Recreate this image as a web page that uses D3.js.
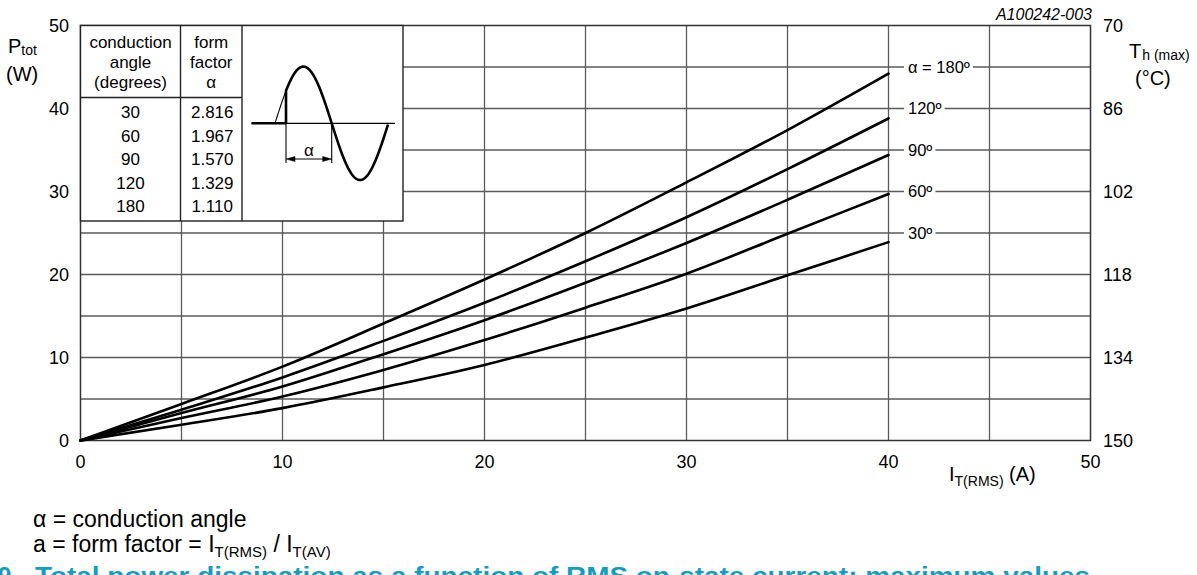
<!DOCTYPE html>
<html>
<head>
<meta charset="utf-8">
<script src="https://cdn.jsdelivr.net/npm/d3@7"></script>
<style>
  html, body { margin: 0; padding: 0; background: #fff; }
  svg { display: block; font-family: "Liberation Sans", Arial, Helvetica, sans-serif; }
</style>
</head>
<body>
<svg id="chart" width="1197" height="575"></svg>
<script>
// RMS on-state current (A) at which each curve is sampled
const current = [0, 5, 10, 15, 20, 25, 30, 35, 40];

// Total power dissipation (W) for each conduction angle
const p180 = [0, 4.4, 8.9, 14.1, 19.4, 25.0, 31.1, 37.4, 44.2];
const p120 = [0, 3.7, 7.6, 12.0, 16.6, 21.6, 26.9, 32.7, 38.8];
const p90  = [0, 3.3, 6.5, 10.4, 14.5, 19.0, 23.8, 29.0, 34.4];
const p60  = [0, 2.7, 5.3,  8.5, 12.1, 16.0, 20.1, 24.9, 29.7];
const p30  = [0, 1.9, 3.9,  6.4,  9.1, 12.4, 15.9, 19.9, 23.9];

// Curve names and the grid level their label sits on
const curveNames  = ["\u03b1 = 180\u00ba", "120\u00ba", "90\u00ba", "60\u00ba", "30\u00ba"];
const labelLevels = [45, 40, 35, 30, 25];

// Axis ticks
const xTicks = [0, 10, 20, 30, 40, 50];
const yTicks = [0, 10, 20, 30, 40, 50];
const tempTicks = [150, 134, 118, 102, 86, 70];
const gridSteps = [5, 10, 15, 20, 25, 30, 35, 40, 45];

// Form factor table
const tableAngles  = ["30", "60", "90", "120", "180"];
const tableFactors = ["2.816", "1.967", "1.570", "1.329", "1.110"];

const series = [p180, p120, p90, p60, p30];

const svg = d3.select("#chart");

const x = d3.scaleLinear().domain([0, 50]).range([80.5, 1090.5]);
const y = d3.scaleLinear().domain([0, 50]).range([440.5, 25.5]);
const yT = d3.scaleLinear().domain([150, 70]).range([440.5, 25.5]);

const gridColor = "#5a5a5a";

// grid
const grid = svg.append("g");
grid.selectAll("line.v").data(gridSteps).join("line")
  .attr("x1", d => x(d)).attr("x2", d => x(d))
  .attr("y1", y(0)).attr("y2", y(50))
  .attr("stroke", gridColor).attr("stroke-width", 1.3);
grid.selectAll("line.h").data(gridSteps).join("line")
  .attr("x1", x(0)).attr("x2", x(50))
  .attr("y1", d => y(d)).attr("y2", d => y(d))
  .attr("stroke", gridColor).attr("stroke-width", 1.3);

// frame
svg.append("rect")
  .attr("x", x(0)).attr("y", y(50))
  .attr("width", x(50) - x(0)).attr("height", y(0) - y(50))
  .attr("fill", "none").attr("stroke", "#333").attr("stroke-width", 1.5);

// curves
const line = d3.line()
  .x((d, i) => x(current[i]))
  .y(d => y(d))
  .curve(d3.curveMonotoneX);

svg.append("g").selectAll("path").data(series).join("path")
  .attr("d", d => line(d))
  .attr("fill", "none").attr("stroke", "#000").attr("stroke-width", 2.6)
  .attr("stroke-linecap", "round");

// curve labels on the grid lines
const labels = svg.append("g").attr("font-size", 16.5);
curveNames.forEach((name, i) => {
  const t = labels.append("text")
    .attr("x", 908).attr("y", y(labelLevels[i]))
    .attr("dy", "0.36em")
    .text(name);
  const bb = t.node().getBBox();
  labels.insert("rect", "text")
    .attr("x", bb.x - 4).attr("y", y(labelLevels[i]) - 3)
    .attr("width", bb.width + 7).attr("height", 6)
    .attr("fill", "#fff");
});

// left axis labels
svg.append("g").attr("font-size", 18).attr("text-anchor", "end")
  .selectAll("text").data(yTicks).join("text")
  .attr("x", 69).attr("y", d => y(d)).attr("dy", "0.36em")
  .text(d => d);

// right axis labels (heatsink temperature)
svg.append("g").attr("font-size", 18).attr("text-anchor", "start")
  .selectAll("text").data(tempTicks).join("text")
  .attr("x", 1103).attr("y", d => yT(d)).attr("dy", "0.36em")
  .text(d => d);

// bottom axis labels
svg.append("g").attr("font-size", 18).attr("text-anchor", "middle")
  .selectAll("text").data(xTicks).join("text")
  .attr("x", d => x(d)).attr("y", 468)
  .text(d => d);

// axis titles
const pt = svg.append("text").attr("x", 8).attr("y", 53).attr("font-size", 20);
pt.append("tspan").text("P");
pt.append("tspan").attr("font-size", 14).attr("dy", 2).text("tot");
svg.append("text").attr("x", 6).attr("y", 81).attr("font-size", 20).text("(W)");

const tt = svg.append("text").attr("x", 1129).attr("y", 58).attr("font-size", 20);
tt.append("tspan").text("T");
tt.append("tspan").attr("font-size", 14).attr("dx", 1).attr("dy", 2).text("h (max)");
svg.append("text").attr("x", 1135).attr("y", 85).attr("font-size", 20).text("(\u00b0C)");

const it = svg.append("text").attr("x", 949).attr("y", 481).attr("font-size", 20);
it.append("tspan").text("I");
it.append("tspan").attr("font-size", 14).attr("dy", 5).text("T(RMS)");
it.append("tspan").attr("dy", -5).text(" (A)");

// drawing reference
svg.append("text").attr("x", 1092).attr("y", 20).attr("font-size", 16)
  .attr("font-style", "italic").attr("text-anchor", "end").text("A100242-003");

// form factor table
const tbl = svg.append("g");
const tL = x(0), tR = 403, tT = y(50), tB = 221, c1 = 180.5, c2 = 242, hB = 97.5;
tbl.append("rect").attr("x", tL).attr("y", tT).attr("width", tR - tL).attr("height", tB - tT)
  .attr("fill", "#fff").attr("stroke", "#222").attr("stroke-width", 1.4);
tbl.append("line").attr("x1", c1).attr("x2", c1).attr("y1", tT).attr("y2", tB)
  .attr("stroke", "#222").attr("stroke-width", 1.4);
tbl.append("line").attr("x1", c2).attr("x2", c2).attr("y1", tT).attr("y2", tB)
  .attr("stroke", "#222").attr("stroke-width", 1.4);
tbl.append("line").attr("x1", tL).attr("x2", c2).attr("y1", hB).attr("y2", hB)
  .attr("stroke", "#222").attr("stroke-width", 1.4);

const head1 = ["conduction", "angle", "(degrees)"];
const head2 = ["form", "factor", "\u03b1"];
const headY = [47.5, 68, 88];
const tg = tbl.append("g").attr("font-size", 17).attr("text-anchor", "middle");
head1.forEach((s, i) => tg.append("text").attr("x", (tL + c1) / 2).attr("y", headY[i]).text(s));
head2.forEach((s, i) => tg.append("text").attr("x", (c1 + c2) / 2).attr("y", headY[i]).text(s));
tableAngles.forEach((s, i) => tg.append("text").attr("x", (tL + c1) / 2).attr("y", 118 + i * 23.5).text(s));
tableFactors.forEach((s, i) => tg.append("text").attr("x", (c1 + c2) / 2 + 1).attr("y", 118 + i * 23.5).text(s));

// phase-control waveform sketch
const w0 = 275, half = 56.7, base = 123.3, amp = 56.7, trig = 286;
const wave = d3.line().x(d => d[0]).y(d => d[1]);
const sinePts = (a, b) => d3.range(a, b + 0.01, 0.5).map(px => [px, base - amp * Math.sin((px - w0) / half * Math.PI)]);
const sk = tbl.append("g").attr("fill", "none").attr("stroke", "#000");
sk.append("path").attr("d", wave([[251.5, base], [395, base]])).attr("stroke-width", 1.2);
sk.append("path").attr("d", wave([[251.5, base], [trig, base]])).attr("stroke-width", 2.6);
sk.append("path").attr("d", wave(sinePts(w0, trig))).attr("stroke-width", 1.1);
sk.append("path").attr("d", wave([[trig, base]].concat(sinePts(trig, w0 + 2 * half))))
  .attr("stroke-width", 2.6).attr("stroke-linejoin", "round");
// conduction angle dimension
const dimY = 159, x2d = w0 + half;
sk.append("path").attr("d", wave([[trig, base], [trig, 163]])).attr("stroke-width", 1.1);
sk.append("path").attr("d", wave([[x2d, base], [x2d, 163]])).attr("stroke-width", 1.1);
sk.append("path").attr("d", wave([[trig + 6, dimY], [x2d - 6, dimY]])).attr("stroke-width", 1.1);
sk.append("path").attr("d", wave([[trig, dimY], [trig + 9, dimY - 2.5], [trig + 9, dimY + 2.5]]) + "Z")
  .attr("fill", "#000").attr("stroke-width", 0.5);
sk.append("path").attr("d", wave([[x2d, dimY], [x2d - 9, dimY - 2.5], [x2d - 9, dimY + 2.5]]) + "Z")
  .attr("fill", "#000").attr("stroke-width", 0.5);
tbl.append("text").attr("x", (trig + x2d) / 2).attr("y", 155.5).attr("font-size", 17)
  .attr("text-anchor", "middle").text("\u03b1");

// notes below the chart
svg.append("text").attr("x", 33).attr("y", 527).attr("font-size", 23).text("\u03b1 = conduction angle");
const nt = svg.append("text").attr("x", 33).attr("y", 552).attr("font-size", 23);
nt.append("tspan").text("a = form factor = I");
nt.append("tspan").attr("font-size", 15).attr("dy", 5).text("T(RMS)");
nt.append("tspan").attr("dy", -5).text(" / I");
nt.append("tspan").attr("font-size", 15).attr("dy", 5).text("T(AV)");

// figure caption
const cap = svg.append("g").attr("font-size", 24).attr("font-weight", "bold").attr("fill", "#1a9bbb");
cap.append("text").attr("x", -2).attr("y", 584).text("9.");
cap.append("text").attr("x", 35).attr("y", 584)
  .attr("textLength", 1055).attr("lengthAdjust", "spacingAndGlyphs")
  .text("Total power dissipation as a function of RMS on-state current; maximum values");
</script>
</body>
</html>
